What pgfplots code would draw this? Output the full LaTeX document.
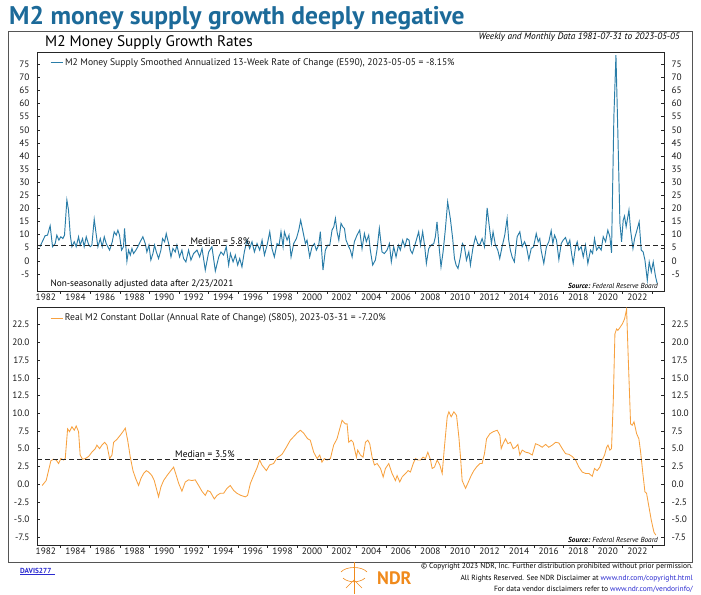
\documentclass[border=0pt]{standalone}
\usepackage{fontspec}
\setmainfont{PT Sans}
\usepackage{pgfplots}
\pgfplotsset{compat=1.18}
\definecolor{titleblue}{HTML}{1C6A99}
\definecolor{m2blue}{HTML}{2A7DA8}
\definecolor{m2orange}{HTML}{F7A13F}
\definecolor{linkblue}{HTML}{2B2BD0}
\definecolor{ndrorange}{HTML}{F08A1C}
\definecolor{frame}{HTML}{555555}

\pgfplotsset{
  panel/.style={
    scale only axis, width=627pt, xmin=1981.4, xmax=2023.8,
    axis line style={black!85, line width=0.5pt},
    tick align=inside, major tick length=3pt, minor tick length=3pt,
    tick style={black!85, line width=0.5pt},
    xtick={1982,1984,...,2022},
    xticklabels={1982,1984,1986,1988,1990,1992,1994,1996,1998,2000,2002,2004,2006,2008,2010,2012,2014,2016,2018,2020,2022},
    minor xtick={1983,1985,...,2023},
    major x tick style={draw=none},
    minor x tick style={yshift=-3pt},
    xtick pos=left, ytick pos=left,
    tick label style={font=\fontsize{9.3}{10}\selectfont, text=black!90},
    xticklabel style={yshift=1pt},
    yticklabel style={xshift=-4pt},
    legend style={draw=none, fill=none, font=\fontsize{9.6}{10}\selectfont, text=black!90, inner sep=1pt},
    legend cell align=left,
    legend image code/.code={\draw[#1] (0pt,0pt) -- (12pt,0pt);},
  },
  rightpanel/.style={
    scale only axis, width=627pt, xmin=1981.4, xmax=2023.8,
    axis x line=none, axis y line*=right,
    axis line style={black!85, line width=0.5pt},
    tick align=inside, major tick length=3pt,
    tick style={black!85, line width=0.5pt},
    tick label style={font=\fontsize{9.3}{10}\selectfont, text=black!90},
    yticklabel style={xshift=4pt},
  }
}

\begin{document}
\begin{tikzpicture}[x=1pt,y=1pt]
\useasboundingbox (0,0) rectangle (701,-594);
% title
\node[anchor=base west, inner sep=0pt, font=\fontsize{25.5}{27}\selectfont\bfseries, text=titleblue] at (9,-25) {M2 money supply growth deeply negative};
% outer frame
\draw[frame, line width=0.8pt] (8,-31) rectangle (692,-562);
\node[anchor=base west, inner sep=0pt, font=\fontsize{15.3}{17}\selectfont] at (45,-47) {M2 Money Supply Growth Rates};
\node[anchor=base east, inner sep=0pt, font=\fontsize{9.3}{10}\selectfont\itshape] at (680,-40) {Weekly and Monthly Data 1981-07-31 to 2023-05-05};

% ---------------- top panel ----------------
\begin{axis}[panel, at={(37pt,-52pt)}, anchor=north west, height=239pt,
  ymin=-11.5, ymax=79.7,
  ytick={-5,0,5,10,15,20,25,30,35,40,45,50,55,60,65,70,75},
  yticklabels={-5,0,5,10,15,20,25,30,35,40,45,50,55,60,65,70,75},
  legend style={at={(0.019,0.985)}, anchor=north west}]
\addplot[m2blue, line width=0.95pt] coordinates {
(1981.6,5.4) (1981.95,9.6) (1982.11,9.8) (1982.29,13.4) (1982.45,5.4) (1982.63,6.6) (1982.74,9.8) (1982.88,7.9)
(1983.01,9.2) (1983.15,8.5) (1983.26,9.8) (1983.42,23.2) (1983.53,19.4) (1983.65,9.8) (1983.76,5.4) (1983.92,7.3)
(1984.05,5.4) (1984.21,9.2) (1984.32,6.0) (1984.48,8.5) (1984.59,5.4) (1984.73,9.2) (1984.89,6.2) (1985.00,5.4)
(1985.11,6.0) (1985.27,15.9) (1985.41,9.8) (1985.52,5.4) (1985.68,8.5) (1985.81,5.4) (1985.95,9.2) (1986.08,6.6)
(1986.19,5.4) (1986.31,4.1) (1986.49,7.3) (1986.62,11.1) (1986.76,9.8) (1986.87,11.7) (1986.98,9.8) (1987.12,4.1)
(1987.25,5.4) (1987.32,12.4) (1987.48,-0.1) (1987.59,4.1) (1987.71,2.2) (1987.82,4.7) (1987.93,2.8) (1988.09,4.1)
(1988.22,5.4) (1988.38,7.3) (1988.56,9.2) (1988.72,6.6) (1988.83,3.4) (1988.97,6.0) (1989.10,0.3) (1989.24,2.8)
(1989.35,6.0) (1989.47,3.4) (1989.62,0.9) (1989.78,4.1) (1989.89,8.5) (1990.03,7.3) (1990.14,10.4) (1990.30,6.6)
(1990.46,1.5) (1990.59,4.7) (1990.75,3.4) (1990.86,6.0) (1991.04,1.5) (1991.20,4.1) (1991.31,0.9) (1991.47,-0.4)
(1991.65,4.1) (1991.81,0.3) (1991.99,2.8) (1992.22,4.1) (1992.40,1.5) (1992.56,4.7) (1992.78,-3.5) (1993.01,3.4)
(1993.23,5.4) (1993.46,-3.9) (1993.69,1.5) (1993.84,3.4) (1994.02,2.2) (1994.20,5.4) (1994.36,-1.6) (1994.48,2.8)
(1994.66,-0.4) (1994.81,2.2) (1994.97,-1.6) (1995.11,0.9) (1995.26,-2.3) (1995.42,3.4) (1995.60,7.9) (1995.78,4.7)
(1995.94,7.3) (1996.10,3.4) (1996.28,6.6) (1996.46,4.1) (1996.62,7.9) (1996.78,2.2) (1996.96,6.0) (1997.14,11.1)
(1997.29,4.7) (1997.45,1.5) (1997.63,6.6) (1997.77,6.0) (1997.90,11.1) (1998.04,5.4) (1998.13,11.1) (1998.31,7.9)
(1998.44,9.8) (1998.58,1.5) (1998.76,6.6) (1998.94,8.5) (1999.10,11.7) (1999.23,15.5) (1999.39,11.1) (1999.55,6.6)
(1999.66,7.9) (1999.84,1.5) (2000.00,5.4) (2000.16,6.6) (2000.29,4.1) (2000.45,6.0) (2000.56,11.1) (2000.74,-3.5)
(2000.90,4.1) (2001.06,6.0) (2001.20,6.0) (2001.35,11.7) (2001.47,13.0) (2001.58,16.2) (2001.69,11.1) (2001.81,7.9)
(2001.96,14.3) (2002.08,13.0) (2002.19,12.4) (2002.30,7.9) (2002.48,5.4) (2002.59,4.1) (2002.71,1.5) (2002.86,7.3)
(2003.04,9.8) (2003.22,11.7) (2003.38,4.7) (2003.54,10.4) (2003.67,7.3) (2003.83,9.8) (2003.94,4.1) (2004.10,-1.6)
(2004.28,0.3) (2004.39,4.1) (2004.55,12.4) (2004.73,3.4) (2004.89,2.8) (2005.07,4.1) (2005.23,6.6) (2005.36,-0.4)
(2005.52,5.4) (2005.68,1.5) (2005.84,6.0) (2005.97,4.1) (2006.13,7.9) (2006.27,5.4) (2006.42,8.5) (2006.56,7.9)
(2006.65,4.1) (2006.78,2.8) (2006.92,5.4) (2007.05,7.9) (2007.21,11.1) (2007.33,6.0) (2007.48,11.1) (2007.62,5.4)
(2007.73,-1.0) (2007.89,4.7) (2008.05,6.0) (2008.23,6.6) (2008.34,9.2) (2008.45,14.9) (2008.57,6.6) (2008.72,-2.3)
(2008.86,3.4) (2009.02,12.4) (2009.17,22.5) (2009.35,16.2) (2009.51,8.5) (2009.63,0.9) (2009.74,-1.6) (2009.87,-2.9)
(2010.03,1.5) (2010.17,6.6) (2010.30,5.4) (2010.44,0.3) (2010.60,3.4) (2010.71,-1.6) (2010.87,4.7) (2011.05,9.2)
(2011.20,6.6) (2011.34,6.0) (2011.50,8.5) (2011.66,5.4) (2011.84,20.2) (2011.99,13.0) (2012.13,6.6) (2012.24,11.1)
(2012.40,6.0) (2012.56,4.1) (2012.69,0.9) (2012.85,5.4) (2013.03,9.8) (2013.19,16.2) (2013.30,7.9) (2013.41,4.1)
(2013.53,1.5) (2013.68,-0.4) (2013.87,9.2) (2014.05,11.1) (2014.21,5.4) (2014.37,7.3) (2014.50,5.4) (2014.66,0.5)
(2014.82,4.7) (2014.98,5.4) (2015.16,10.4) (2015.29,7.3) (2015.40,8.5) (2015.49,4.1) (2015.67,-1.0) (2015.85,5.4)
(2016.01,7.3) (2016.17,11.5) (2016.28,6.6) (2016.40,9.8) (2016.53,7.9) (2016.69,0.5) (2016.85,6.6) (2016.98,7.9)
(2017.14,8.9) (2017.30,6.0) (2017.43,7.9) (2017.55,2.8) (2017.66,-1.0) (2017.82,5.4) (2017.93,7.3) (2018.04,4.1)
(2018.20,5.4) (2018.34,1.5) (2018.49,6.0) (2018.65,-1.0) (2018.83,4.1) (2018.97,2.8) (2019.10,8.5) (2019.24,4.1)
(2019.40,5.4) (2019.55,4.1) (2019.69,9.2) (2019.85,7.3) (2020.00,11.7) (2020.14,9.2) (2020.25,3.1) (2020.41,55.0)
(2020.55,78.5) (2020.68,48.6) (2020.82,14.3) (2020.93,7.3) (2021.04,15.5) (2021.13,17.1) (2021.24,13.0) (2021.43,19.4)
(2021.54,11.7) (2021.70,4.7) (2021.81,8.5) (2021.94,11.1) (2022.12,14.9) (2022.26,4.1) (2022.39,3.4) (2022.51,0.3)
(2022.67,-7.4) (2022.80,-0.4) (2022.94,-4.2) (2023.07,-0.4) (2023.23,-6.1) (2023.34,-8.6)
};
\addlegendentry{M2 Money Supply Smoothed Annualized 13-Week Rate of Change (E590), 2023-05-05 = -8.15\%}
\addplot[black!85, line width=0.6pt, dash pattern=on 5pt off 3pt, forget plot] coordinates {(1981.4,5.8) (2023.8,5.8)};
\node[anchor=south, inner sep=1pt, font=\fontsize{9.5}{10}\selectfont] at (axis cs:1993.8,5.8) {Median = 5.8\%};
\node[anchor=west, inner sep=0pt, font=\fontsize{9.3}{10}\selectfont] at (axis cs:1982.3,-8.9) {Non-seasonally adjusted data after 2/23/2021};
\node[anchor=east, inner sep=0pt, font=\fontsize{7.3}{8}\selectfont\itshape] at (axis cs:2023.4,-9.5) {\textbf{Source:}\ Federal Reserve Board};
\end{axis}
\begin{axis}[rightpanel, at={(37pt,-52pt)}, anchor=north west, height=239pt,
  ymin=-11.5, ymax=79.7,
  ytick={-5,0,5,10,15,20,25,30,35,40,45,50,55,60,65,70,75},
  yticklabels={-5,0,5,10,15,20,25,30,35,40,45,50,55,60,65,70,75}]
\addplot[draw=none] coordinates {(2000,0)};
\end{axis}

% ---------------- bottom panel ----------------
\begin{axis}[panel, at={(37pt,-307pt)}, anchor=north west, height=238pt,
  ymin=-8.6, ymax=25,
  ytick={-7.5,-5,-2.5,0,2.5,5,7.5,10,12.5,15,17.5,20,22.5},
  yticklabels={-7.5,-5.0,-2.5,0.0,2.5,5.0,7.5,10.0,12.5,15.0,17.5,20.0,22.5},
  legend style={at={(0.019,0.985)}, anchor=north west}]
\addplot[m2orange, line width=0.85pt] coordinates {
(1981.75,-0.2) (1982.02,0.5) (1982.18,1.9) (1982.34,3.3) (1982.52,3.5) (1982.70,3.4) (1982.86,2.9) (1983.01,3.6)
(1983.20,3.4) (1983.31,3.6) (1983.47,7.8) (1983.60,7.4) (1983.76,8.1) (1983.92,7.6) (1984.05,8.2) (1984.21,7.4)
(1984.32,4.1) (1984.48,3.5) (1984.66,3.6) (1984.89,3.9) (1985.11,4.5) (1985.34,5.0) (1985.45,5.5) (1985.63,5.0)
(1985.79,5.5) (1985.97,5.9) (1986.13,5.5) (1986.31,3.6) (1986.47,4.1) (1986.58,5.9) (1986.80,6.3) (1987.03,6.9)
(1987.21,7.4) (1987.37,7.9) (1987.53,6.2) (1987.71,3.8) (1987.89,1.9) (1988.07,0.8) (1988.27,-0.2) (1988.43,0.8)
(1988.61,1.5) (1988.79,1.9) (1988.95,1.7) (1989.17,1.2) (1989.33,0.5) (1989.47,-0.6) (1989.62,-1.8) (1989.78,-0.4)
(1989.96,0.5) (1990.19,1.2) (1990.41,1.8) (1990.64,2.4) (1990.82,1.2) (1990.98,0.1) (1991.20,-1.0) (1991.43,0.3)
(1991.65,0.6) (1991.88,0.5) (1992.10,0.6) (1992.33,-0.2) (1992.55,-1.0) (1992.78,-1.6) (1992.94,-0.9) (1993.12,-1.1)
(1993.39,-2.1) (1993.57,-1.6) (1993.80,-1.3) (1994.02,-1.3) (1994.25,-0.6) (1994.47,-0.2) (1994.70,-0.9) (1994.92,-1.3)
(1995.19,-1.6) (1995.49,-1.8) (1995.64,-1.6) (1995.83,0.1) (1996.05,1.2) (1996.28,2.3) (1996.46,3.4) (1996.61,2.7)
(1996.91,1.9) (1997.13,2.7) (1997.40,2.9) (1997.63,3.7) (1997.97,4.2) (1998.26,5.2) (1998.53,6.2) (1998.76,6.7)
(1998.98,7.2) (1999.21,7.6) (1999.43,7.2) (1999.70,6.4) (1999.88,6.2) (2000.11,4.5) (2000.34,3.6) (2000.52,4.1)
(2000.67,3.1) (2000.83,3.6) (2001.01,3.4) (2001.24,3.6) (2001.46,5.5) (2001.69,6.4) (2001.87,7.8) (2002.03,9.0)
(2002.25,8.5) (2002.37,8.5) (2002.48,5.9) (2002.64,6.2) (2002.78,5.9) (2002.87,5.0) (2003.00,3.8) (2003.09,4.8)
(2003.27,4.1) (2003.45,3.8) (2003.61,5.9) (2003.77,6.2) (2003.90,5.7) (2004.06,3.8) (2004.22,2.7) (2004.40,2.9)
(2004.63,2.2) (2004.81,1.0) (2004.96,2.2) (2005.19,2.9) (2005.41,1.5) (2005.64,0.5) (2005.75,1.2) (2005.93,0.3)
(2006.09,1.0) (2006.32,1.5) (2006.50,1.9) (2006.65,1.7) (2006.84,2.9) (2006.99,3.6) (2007.15,3.4) (2007.33,3.4)
(2007.51,3.8) (2007.67,3.6) (2007.83,4.5) (2008.01,3.4) (2008.12,2.2) (2008.28,2.4) (2008.46,3.4) (2008.64,2.7)
(2008.80,1.5) (2008.95,5.2) (2009.14,9.5) (2009.25,10.2) (2009.41,9.5) (2009.59,10.2) (2009.77,9.7) (2009.93,6.6)
(2010.04,3.8) (2010.15,0.5) (2010.38,-0.6) (2010.53,0.1) (2010.76,1.2) (2010.94,1.9) (2011.12,2.4) (2011.35,2.9)
(2011.50,2.9) (2011.66,4.3) (2011.80,6.4) (2012.02,7.1) (2012.25,7.4) (2012.52,7.6) (2012.70,6.9) (2012.79,5.0)
(2012.92,5.7) (2013.08,6.4) (2013.24,5.7) (2013.42,5.9) (2013.60,5.0) (2013.76,5.2) (2013.92,5.6) (2014.05,4.1)
(2014.21,4.8) (2014.44,4.5) (2014.66,4.4) (2014.89,4.1) (2015.11,5.7) (2015.34,5.5) (2015.56,5.2) (2015.79,5.6)
(2016.01,5.2) (2016.24,5.5) (2016.47,5.9) (2016.69,5.8) (2016.92,5.0) (2017.14,4.3) (2017.37,4.2) (2017.59,3.9)
(2017.82,3.4) (2018.04,2.4) (2018.27,1.7) (2018.50,1.5) (2018.72,1.5) (2018.95,1.1) (2019.10,2.2) (2019.28,1.9)
(2019.46,2.4) (2019.62,3.4) (2019.78,4.1) (2019.92,5.2) (2020.01,5.5) (2020.14,4.8) (2020.25,5.0) (2020.37,11.8)
(2020.48,21.2) (2020.59,21.9) (2020.68,21.7) (2020.82,22.1) (2020.98,22.6) (2021.13,23.3) (2021.27,24.7) (2021.38,17.9)
(2021.54,8.5) (2021.65,8.3) (2021.77,8.8) (2021.95,7.1) (2022.10,6.4) (2022.22,4.5) (2022.37,1.5) (2022.51,-1.1)
(2022.62,-1.3) (2022.78,-3.2) (2022.94,-5.1) (2023.12,-6.8) (2023.25,-7.2)
};
\addlegendentry{Real M2 Constant Dollar (Annual Rate of Change) (S805), 2023-03-31 = -7.20\%}
\addplot[black!85, line width=0.6pt, dash pattern=on 5pt off 3pt, forget plot] coordinates {(1981.4,3.5) (2023.8,3.5)};
\node[anchor=south, inner sep=1pt, font=\fontsize{9.5}{10}\selectfont] at (axis cs:1992.76,3.5) {Median = 3.5\%};
\node[anchor=east, inner sep=0pt, font=\fontsize{7.3}{8}\selectfont\itshape] at (axis cs:2023.4,-7.9) {\textbf{Source:}\ Federal Reserve Board};
\end{axis}
\begin{axis}[rightpanel, at={(37pt,-307pt)}, anchor=north west, height=238pt,
  ymin=-8.6, ymax=25,
  ytick={-7.5,-5,-2.5,0,2.5,5,7.5,10,12.5,15,17.5,20,22.5},
  yticklabels={-7.5,-5.0,-2.5,0.0,2.5,5.0,7.5,10.0,12.5,15.0,17.5,20.0,22.5}]
\addplot[draw=none] coordinates {(2000,0)};
\end{axis}

% ---------------- footer ----------------
\node[anchor=base west, inner sep=0pt, font=\fontsize{7.3}{8}\selectfont\bfseries, text=linkblue] at (20,-573) {\underline{DAVIS277\hspace{4pt}}};
\node[anchor=base east, inner sep=0pt, font=\fontsize{7.5}{8}\selectfont] at (693,-568) {\textcopyright\ Copyright 2023 NDR, Inc. Further distribution prohibited without prior permission.};
\node[anchor=base east, inner sep=0pt, font=\fontsize{7.5}{8}\selectfont] at (693,-580) {All Rights Reserved. See NDR Disclaimer at \textcolor{linkblue}{www.ndr.com/copyright.html}};
\node[anchor=base east, inner sep=0pt, font=\fontsize{7.5}{8}\selectfont] at (693,-591) {For data vendor disclaimers refer to \textcolor{linkblue}{www.ndr.com/vendorinfo/}};
\node[anchor=west, inner sep=0pt, font=\fontsize{18}{18}\selectfont\bfseries, text=ndrorange] at (377,-578) {NDR};
\draw[ndrorange, line width=0.6pt] (354,-562) -- (354,-594);
\draw[ndrorange, line width=0.6pt] (341,-572) .. controls (346,-566) and (362,-566) .. (367,-572)
  (343,-578) .. controls (348,-583) and (360,-583) .. (365,-578)
  (346,-588) -- (354,-580) -- (362,-588);
\end{tikzpicture}
\end{document}
